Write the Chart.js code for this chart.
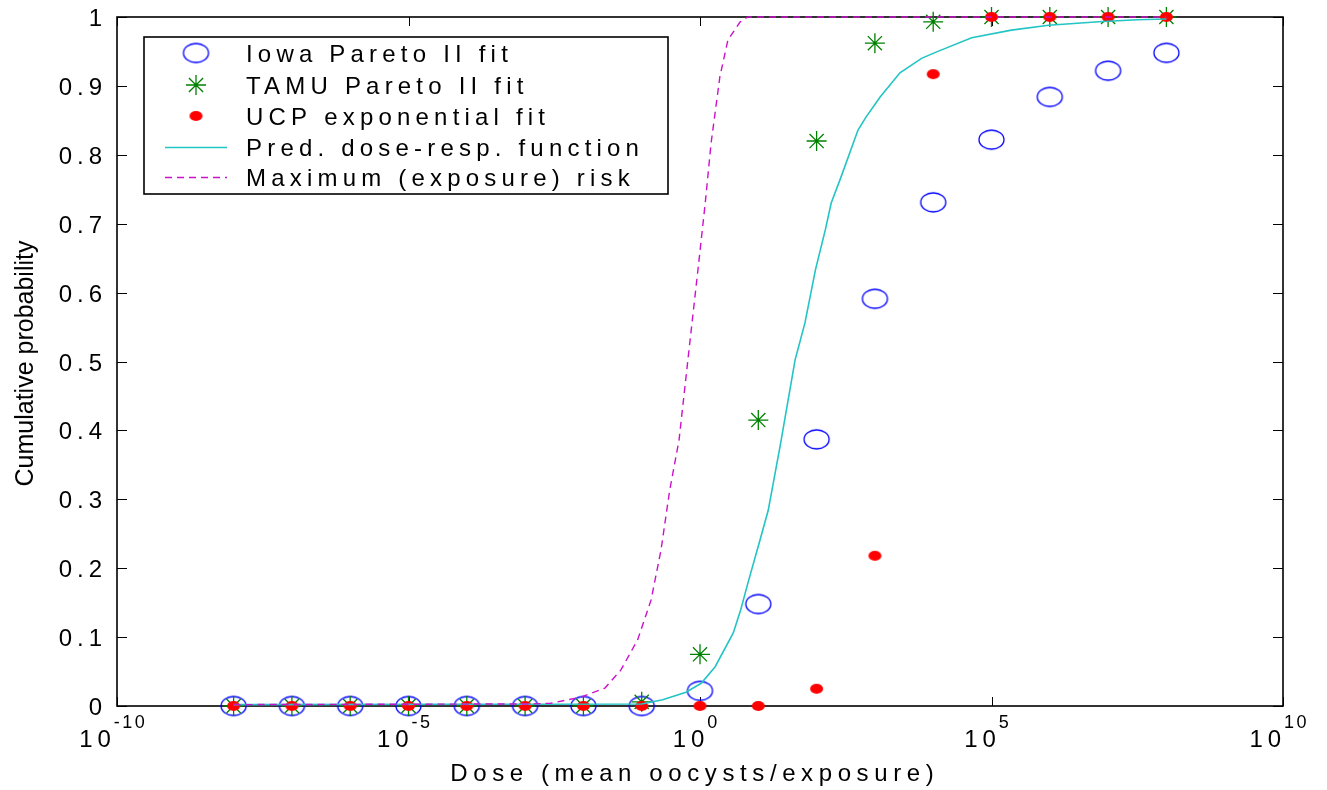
<!DOCTYPE html>
<html>
<head>
<meta charset="utf-8">
<script src="https://cdn.jsdelivr.net/npm/chart.js@4.4.1/dist/chart.umd.min.js"></script>
<style>
  html, body { margin: 0; padding: 0; background: #fff; }
  #wrap { width: 1327px; height: 790px; position: relative; }
</style>
</head>
<body>
<div id="wrap"><canvas id="graph"></canvas></div>
<script>
// doses at which the three fits were evaluated
const doses = [1e-8, 1e-7, 1e-6, 1e-5, 1e-4, 1e-3, 1e-2, 1e-1, 1e0, 1e1, 1e2, 1e3, 1e4, 1e5, 1e6, 1e7, 1e8]
const iowa = [0, 0, 0, 0, 0, 0, 0, 0, 0.022, 0.148, 0.387, 0.591, 0.731, 0.822, 0.884, 0.922, 0.948]
const tamu = [0, 0, 0, 0, 0, 0, 0, 0.006, 0.075, 0.415, 0.82, 0.962, 0.993, 1, 1, 1, 1]
const ucp = [0, 0, 0, 0, 0, 0, 0, 0, 0, 0, 0.025, 0.218, 0.917, 1, 1, 1, 1]

// predicted dose-response curve
const predDose = [1e-8, 0.1, 0.229, 0.575, 1.05, 1.82, 3.72, 5.01, 6.61, 10.7, 14.8, 24, 42.7, 63.1, 95.5, 141, 178,
  263, 513, 708, 1230, 2690, 6310, 11200, 45700, 219000, 955000, 6.92e6, 3.16e7, 1e8]
const predProb = [0.002, 0.003, 0.009, 0.02, 0.033, 0.057, 0.106, 0.14, 0.178, 0.241, 0.284, 0.38, 0.502, 0.556, 0.633, 0.691, 0.73,
  0.768, 0.836, 0.855, 0.884, 0.919, 0.94, 0.949, 0.97, 0.981, 0.988, 0.993, 0.996, 0.997]

// maximum (exposure) risk curve
const maxDose = [1e-8, 1.26e-3, 2.75e-3, 9.12e-3, 2.34e-2, 4.37e-2, 8.51e-2, 0.145, 0.214, 0.302, 0.437, 0.676, 0.933,
  1.23, 1.55, 2.19, 3.02, 4.9, 6.61, 1e8]
const maxProb = [0.002, 0.003, 0.004, 0.013, 0.026, 0.052, 0.096, 0.154, 0.226, 0.313, 0.386, 0.531, 0.637,
  0.73, 0.817, 0.913, 0.967, 0.993, 1, 1]

const seriesNames = ['Iowa Pareto II fit', 'TAMU Pareto II fit', 'UCP exponential fit', 'Pred. dose-resp. function', 'Maximum (exposure) risk']
const xTicks = [1e-10, 1e-5, 1e0, 1e5, 1e10]
const xTickExp = ['-10', '-5', '0', '5', '10']
const yTicks = [0, 0.1, 0.2, 0.3, 0.4, 0.5, 0.6, 0.7, 0.8, 0.9, 1]
const yTickLabels = ['0', '0.1', '0.2', '0.3', '0.4', '0.5', '0.6', '0.7', '0.8', '0.9', '1']

const FONT = '"Liberation Sans", Arial, sans-serif'
const colors = { iowa: '#0000ff', tamu: '#008000', ucp: '#ff0000', pred: '#22c4c4', max: '#cc11cc' }

function ellipseMarker(w, h, stroke, fill) {
  const c = document.createElement('canvas')
  c.width = w + 4
  c.height = h + 4
  const g = c.getContext('2d')
  g.beginPath()
  g.ellipse(c.width / 2, c.height / 2, w / 2, h / 2, 0, 0, Math.PI * 2)
  if (fill) { g.fillStyle = fill; g.fill() }
  if (stroke) { g.strokeStyle = stroke; g.lineWidth = 1.3; g.stroke() }
  return c
}

const iowaMarker = ellipseMarker(25, 19, colors.iowa, null)
const ucpMarker = ellipseMarker(13, 10, null, colors.ucp)

const pts = (xs, ys) => xs.map((x, i) => ({ x, y: ys[i] }))

function spacedText(ctx, text, x, y, spacing, align) {
  ctx.letterSpacing = spacing + 'px'
  const w = ctx.measureText(text).width - spacing
  let sx = x
  if (align === 'right') sx = x - w
  if (align === 'center') sx = x - w / 2
  ctx.textAlign = 'left'
  ctx.fillText(text, sx, y)
  ctx.letterSpacing = '0px'
  return w
}

const matlabFrame = {
  id: 'matlabFrame',
  beforeDatasetsDraw(chart) {
    const { ctx, chartArea: { left, right, top, bottom }, scales: { x, y } } = chart
    ctx.save()
    ctx.strokeStyle = '#000'
    ctx.lineWidth = 1
    ctx.beginPath()
    xTicks.forEach(v => {
      const px = Math.round(x.getPixelForValue(v)) + 0.5
      ctx.moveTo(px, bottom); ctx.lineTo(px, bottom - 9)
      ctx.moveTo(px, top); ctx.lineTo(px, top + 9)
    })
    yTicks.forEach(v => {
      const py = Math.round(y.getPixelForValue(v)) + 0.5
      ctx.moveTo(left, py); ctx.lineTo(left + 10, py)
      ctx.moveTo(right, py); ctx.lineTo(right - 10, py)
    })
    ctx.stroke()
    ctx.lineWidth = 1.6
    ctx.strokeRect(left, top, right - left, bottom - top)
    ctx.restore()
  },
  afterDraw(chart) {
    const { ctx, chartArea: { left, right, top, bottom }, scales: { x, y } } = chart
    ctx.save()
    ctx.fillStyle = '#000'
    ctx.textBaseline = 'alphabetic'

    // y tick labels
    ctx.font = '24px ' + FONT
    yTicks.forEach((v, i) => {
      spacedText(ctx, yTickLabels[i], left - 15, y.getPixelForValue(v) + 9, 5, 'right')
    })

    // x tick labels, 10 with superscript exponent
    xTicks.forEach((v, i) => {
      const px = x.getPixelForValue(v)
      ctx.font = '24px ' + FONT
      ctx.letterSpacing = '5px'
      const wb = ctx.measureText('10').width
      ctx.font = '18px ' + FONT
      ctx.letterSpacing = '2.5px'
      const we = ctx.measureText(xTickExp[i]).width - 2.5
      const sx = px - (wb + we) / 2 - 4
      ctx.font = '24px ' + FONT
      spacedText(ctx, '10', sx, bottom + 41, 5, 'left')
      ctx.font = '18px ' + FONT
      spacedText(ctx, xTickExp[i], sx + wb - 2, bottom + 22, 2.5, 'left')
    })

    // axis titles
    ctx.font = '24px ' + FONT
    spacedText(ctx, 'Dose (mean oocysts/exposure)', (left + right) / 2 - 8, 781, 5.6, 'center')
    ctx.save()
    ctx.translate(33, (top + bottom) / 2 + 2)
    ctx.rotate(-Math.PI / 2)
    ctx.font = '25px ' + FONT
    ctx.textAlign = 'center'
    ctx.fillText('Cumulative probability', 0, 0)
    ctx.restore()

    // legend
    const box = { l: 144, t: 37, r: 668, b: 194 }
    ctx.fillStyle = '#fff'
    ctx.fillRect(box.l, box.t, box.r - box.l, box.b - box.t)
    ctx.strokeStyle = '#000'
    ctx.lineWidth = 1.6
    ctx.strokeRect(box.l, box.t, box.r - box.l, box.b - box.t)
    const rows = [53, 85, 116, 147, 177]
    const mx = 196
    chart.data.datasets.forEach((ds, i) => {
      const ry = rows[i]
      if (i === 0) ctx.drawImage(iowaMarker, mx - iowaMarker.width / 2, ry - iowaMarker.height / 2)
      if (i === 1) {
        ctx.strokeStyle = colors.tamu
        ctx.lineWidth = 1.3
        Chart.helpers.drawPoint(ctx, { pointStyle: 'star', radius: 10, rotation: 0, borderWidth: 1.3 }, mx, ry)
      }
      if (i === 2) ctx.drawImage(ucpMarker, mx - ucpMarker.width / 2, ry - ucpMarker.height / 2)
      if (i >= 3) {
        ctx.strokeStyle = ds.borderColor
        ctx.lineWidth = ds.borderWidth
        ctx.setLineDash(ds.borderDash || [])
        ctx.beginPath()
        ctx.moveTo(165, ry + 0.5)
        ctx.lineTo(227, ry + 0.5)
        ctx.stroke()
        ctx.setLineDash([])
      }
      ctx.fillStyle = '#000'
      ctx.font = '24px ' + FONT
      spacedText(ctx, ds.label, 246, ry + 9, 5.2, 'left')
    })
    ctx.restore()
  }
}

new Chart(document.getElementById('graph'), {
  type: 'scatter',
  plugins: [matlabFrame],
  data: {
    datasets: [
      {
        label: seriesNames[0], data: pts(doses, iowa), pointStyle: iowaMarker,
        pointRadius: 10, showLine: false, clip: false, order: 5
      },
      {
        label: seriesNames[1], data: pts(doses, tamu), pointStyle: 'star', pointRadius: 10,
        pointBorderColor: colors.tamu, pointBorderWidth: 1.3, borderColor: colors.tamu,
        showLine: false, clip: false, order: 4
      },
      {
        label: seriesNames[2], data: pts(doses, ucp), pointStyle: ucpMarker,
        pointRadius: 6, showLine: false, clip: false, order: 3
      },
      {
        label: seriesNames[3], data: pts(predDose, predProb), showLine: true, pointRadius: 0,
        borderColor: colors.pred, borderWidth: 1.6, tension: 0, clip: false, order: 2
      },
      {
        label: seriesNames[4], data: pts(maxDose, maxProb), showLine: true, pointRadius: 0,
        borderColor: colors.max, borderWidth: 1.4, borderDash: [7, 5], tension: 0, clip: false, order: 1
      }
    ]
  },
  options: {
    responsive: true,
    maintainAspectRatio: false,
    animation: false,
    layout: { padding: { left: 0, top: 17, right: 44, bottom: 0 } },
    plugins: { legend: { display: false }, tooltip: { enabled: false } },
    scales: {
      x: {
        type: 'logarithmic',
        min: 1e-10,
        max: 1e10,
        grid: { display: false },
        border: { display: false },
        ticks: { display: false },
        afterFit(scale) { scale.height = 84 }
      },
      y: {
        type: 'linear',
        min: 0,
        max: 1,
        grid: { display: false },
        border: { display: false },
        ticks: { display: false },
        afterFit(scale) { scale.width = 117 }
      }
    }
  }
})
</script>
</body>
</html>
